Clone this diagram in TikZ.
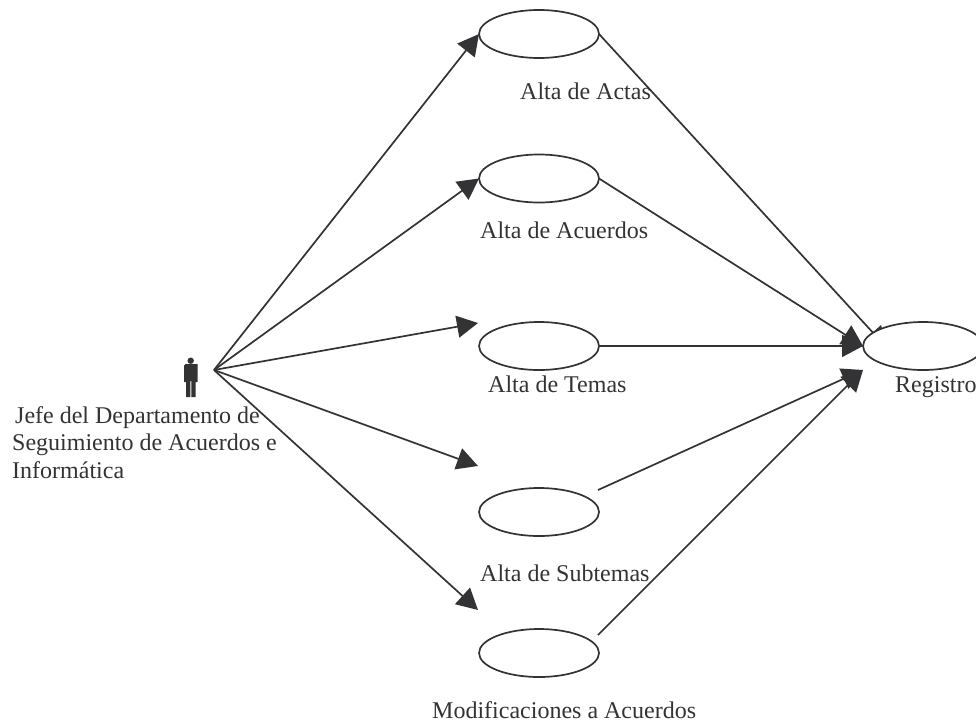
\documentclass[tikz,border=0pt]{standalone}
\usepackage{fontspec}
\setmainfont{Liberation Serif}
\usetikzlibrary{arrows.meta,shapes.geometric,backgrounds}
\definecolor{ink}{HTML}{333336}
\tikzset{
  x=1pt,y=-1pt,
  usecase/.style={draw=ink,fill=white,line width=1.7pt,ellipse,minimum width=120pt,minimum height=48pt,inner sep=0pt,outer sep=0pt},
  lbl/.style={text=ink,inner sep=0pt,font=\fontsize{24}{29}\selectfont},
  flow/.style={draw=ink,line width=1.7pt,-{Triangle[length=21pt,width=22pt,fill=ink]}}
}
\begin{document}
\begin{tikzpicture}
\useasboundingbox (0,0) rectangle (976,723);
\clip (0,0) rectangle (976,723);
\node[usecase] (u1) at (539,34) {};
\node[usecase] (u2) at (539,178.5) {};
\node[usecase] (u3) at (539,346) {};
\node[usecase] (u4) at (539,512) {};
\node[usecase] (u5) at (539,653) {};
\node[usecase] (reg) at (923,346) {};
\coordinate (src) at (214,370);
\coordinate (t3) at (478,323);
\coordinate (t4) at (478,466);
\coordinate (t5) at (478,610);
\coordinate (f4) at (598,490);
\coordinate (f5) at (598,635);
\coordinate (r1) at (887,348);
\coordinate (r4) at (863,370);
% actor
\fill[ink] (190.7,360.7) circle (3.2);
\fill[ink] (184,368) to[rounded corners=1.5] (184,364) -- (197.5,364) to[rounded corners=0] (197.5,382) -- (195.5,382) -- (195.5,397) -- (191.3,397) -- (191.3,381) -- (190.3,381) -- (190.3,397) -- (186,397) -- (186,382) -- (184,382) -- cycle;
% connectors from actor
\draw[flow] (src) -- (u1.west);
\draw[flow] (src) -- (u2.west);
\draw[flow] (src) -- (t3);
\draw[flow] (src) -- (t4);
\draw[flow] (src) -- (t5);
% connectors to Registro
\begin{scope}[on background layer]
\draw[flow] (u1.east) -- (r1);
\end{scope}
\draw[flow] (u2.east) -- (reg.west);
\draw[flow] (u3.east) -- (reg.west);
\draw[flow] (f4) -- (r4);
\draw[flow] (f5) -- (r4);
% labels
\node[lbl,anchor=base west] (l1) at (520,99) {Alta de Actas};
\node[lbl,anchor=base west] (l2) at (480,238) {Alta de Acuerdos};
\node[lbl,anchor=base west] (l3) at (488,392) {Alta de Temas};
\node[lbl,anchor=base west] (l4) at (480,581) {Alta de Subtemas};
\node[lbl,anchor=base west] (l5) at (432,718) {Modificaciones a Acuerdos};
\node[lbl,anchor=base west] (l6) at (895,392) {Registro};
\node[lbl,anchor=base west] (a1) at (15,423) {Jefe del Departamento de};
\node[lbl,anchor=base west] (a2) at (12,450) {Seguimiento de Acuerdos e};
\node[lbl,anchor=base west] (a3) at (12,478) {Informática};
\end{tikzpicture}
\end{document}
